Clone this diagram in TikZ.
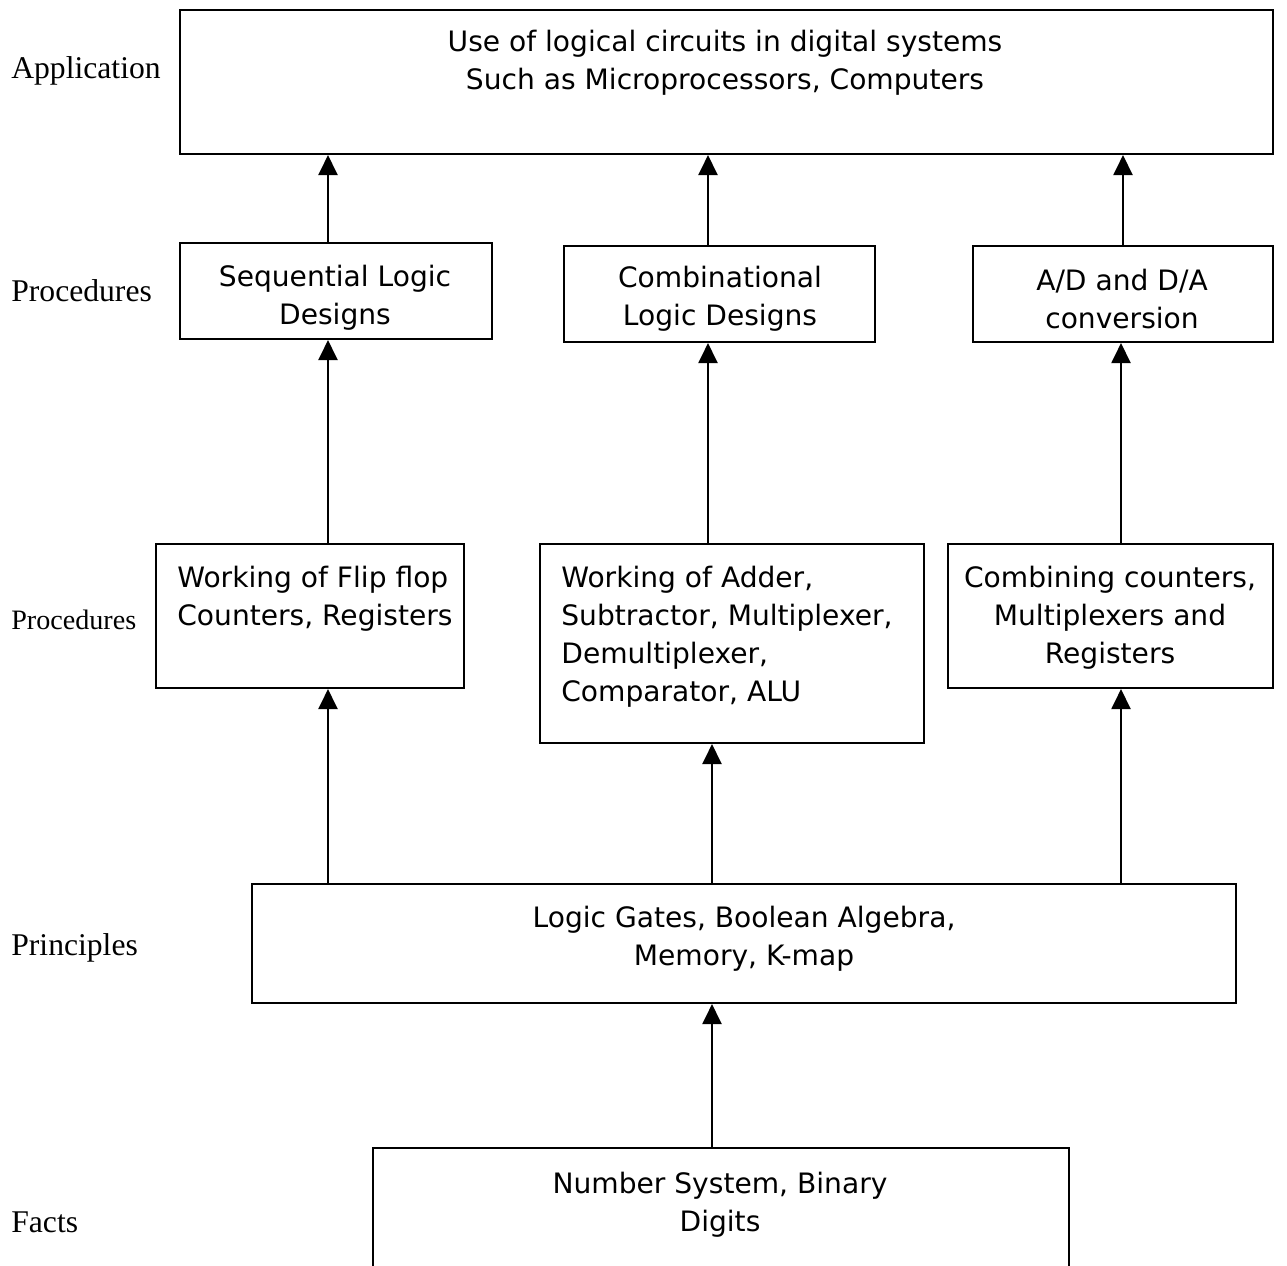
\documentclass[tikz,border=0pt]{standalone}
\usepackage{fontspec}
\setmainfont{Liberation Serif}
\newfontfamily\boxfont{DejaVu Sans}
\usetikzlibrary{arrows.meta}
\tikzset{
    box/.style = {rectangle, draw=black, line width=1.2pt, inner sep=0pt},
    txt/.style = {align=center, inner sep=0pt, font=\boxfont\fontsize{16}{21.6}\selectfont},
    txtl/.style = {txt, align=left, anchor=west},
    lvl/.style = {anchor=west, inner sep=0pt, font=\fontsize{18}{22}\selectfont},
    lvls/.style = {lvl, font=\fontsize{16}{20}\selectfont},
    edgen/.style = {-{Triangle[length=0.4cm,width=0.38cm]}, line width=1.2pt}
}

\begin{document}
\begin{tikzpicture}[x=0.02cm,y=-0.02cm]
\clip (0,0) rectangle (1287,1266);
\useasboundingbox (0,0) rectangle (1287,1266);
% levels
\node[lvl] at (11, 71) (lapp) {Application};
\node[lvl] at (11, 291) (lproc) {Procedures};
\node[lvls] at (11, 620) (lproc2) {Procedures};
\node[lvl] at (11, 948) (lprin) {Principles};
\node[lvl] at (11, 1222) (lfact) {Facts};
%
\node[box, minimum width=21.86cm, minimum height=2.88cm] at (726.5, 82) (app) {};
\node[txt] at (725, 63) {Use of logical circuits in digital systems\\Such as Microprocessors, Computers};
\node[box, minimum width=6.24cm, minimum height=1.92cm] at (336, 291) (seq) {};
\node[txt] at (335, 298) {Sequential Logic\\Designs};
\node[box, minimum width=6.22cm, minimum height=1.92cm] at (719.5, 294) (comb) {};
\node[txt] at (720, 299) {Combinational\\Logic Designs};
\node[box, minimum width=6.00cm, minimum height=1.92cm] at (1123, 294) (adc) {};
\node[txt] at (1122, 299) {A/D and D/A\\conversion};
%
\node[box, minimum width=6.16cm, minimum height=2.88cm] at (310, 616) (ff) {};
\node[txtl] at (177, 599) {Working of Flip flop\\Counters, Registers};
\node[box, minimum width=7.68cm, minimum height=3.98cm] at (732, 643.5) (alu) {};
\node[txtl] at (561, 637) {Working of Adder,\\Subtractor, Multiplexer,\\Demultiplexer,\\Comparator, ALU};
\node[box, minimum width=6.50cm, minimum height=2.88cm] at (1110.5, 616) (cmb) {};
\node[txt] at (1110, 618) {Combining counters,\\Multiplexers and\\Registers};
%
\node[box, minimum width=19.68cm, minimum height=2.38cm] at (744, 943.5) (gates) {};
\node[txt] at (744, 939) {Logic Gates, Boolean Algebra,\\Memory, K-map};
\node[box, minimum width=13.92cm, minimum height=2.84cm] at (721, 1219) (num) {};
\node[txt] at (720, 1205) {Number System, Binary\\Digits};
%
\coordinate (ca) at (328, 0);
\coordinate (cb) at (708, 0);
\coordinate (cc) at (1123, 0);
\coordinate (cd) at (712, 0);
\coordinate (ce) at (1121, 0);
\draw[edgen] (seq.north -| ca) -- (app.south -| ca);
\draw[edgen] (comb.north -| cb) -- (app.south -| cb);
\draw[edgen] (adc.north -| cc) -- (app.south -| cc);
\draw[edgen] (ff.north -| ca) -- (seq.south -| ca);
\draw[edgen] (alu.north -| cb) -- (comb.south -| cb);
\draw[edgen] (cmb.north -| ce) -- (adc.south -| ce);
\draw[edgen] (gates.north -| ca) -- (ff.south -| ca);
\draw[edgen] (gates.north -| cd) -- (alu.south -| cd);
\draw[edgen] (gates.north -| ce) -- (cmb.south -| ce);
\draw[edgen] (num.north -| cd) -- (gates.south -| cd);

\end{tikzpicture}
\end{document}
